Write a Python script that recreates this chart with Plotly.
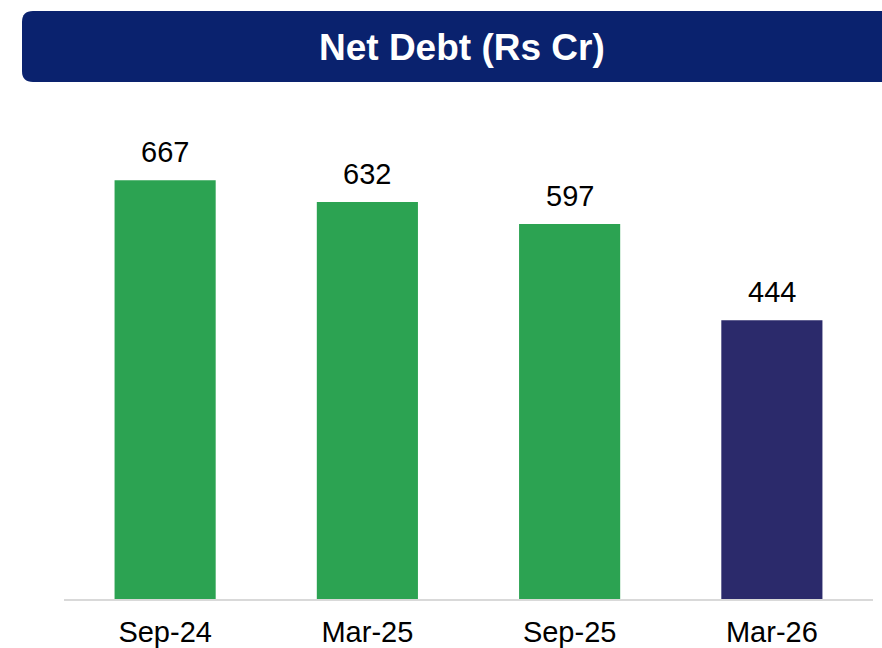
import plotly.graph_objects as go

categories = ["Sep-24", "Mar-25", "Sep-25", "Mar-26"]
values = [667, 632, 597, 444]
bar_colors = ["#2ca352", "#2ca352", "#2ca352", "#2b2a6b"]
title_text = "Net Debt (Rs Cr)"

W, H = 882, 648
ML, MR, MT, MB = 64, 9, 100, 49
plot_w = W - ML - MR
plot_h = H - MT - MB
ymax = 794.6

def px_to_paper_x(px):
    return (px - ML) / plot_w

def px_to_paper_y(py):
    return (H - MB - py) / plot_h

FONT = "Liberation Sans, Arial, sans-serif"

fig = go.Figure()
fig.add_trace(go.Bar(
    x=categories, y=values,
    marker=dict(color=bar_colors, line=dict(width=0)),
    hoverinfo="skip",
))

# value labels
for c, v in zip(categories, values):
    fig.add_annotation(x=c, y=v, text=str(v), showarrow=False,
                       yanchor="bottom", yshift=10,
                       font=dict(family=FONT, size=29, color="#000000"))

# banner with rounded left corners
x0, x1 = px_to_paper_x(22), px_to_paper_x(900)
y0, y1 = px_to_paper_y(82), px_to_paper_y(11)
rx, ry = 11 / plot_w, 11 / plot_h
path = (f"M {x0+rx},{y1} L {x1},{y1} L {x1},{y0} L {x0+rx},{y0} "
        f"Q {x0},{y0} {x0},{y0+ry} L {x0},{y1-ry} Q {x0},{y1} {x0+rx},{y1} Z")
fig.add_shape(type="path", path=path, xref="paper", yref="paper",
              fillcolor="#0a226e", line=dict(width=0), layer="above")
fig.add_annotation(x=px_to_paper_x(462), y=px_to_paper_y(47), xref="paper", yref="paper",
                   text=f"<b>{title_text}</b>", showarrow=False,
                   xanchor="center", yanchor="middle",
                   font=dict(family=FONT, size=37, color="#ffffff"))

fig.update_layout(
    width=W, height=H,
    margin=dict(l=ML, r=MR, t=MT, b=MB, autoexpand=False),
    paper_bgcolor="#ffffff", plot_bgcolor="#ffffff",
    bargap=0.5, showlegend=False,
    font=dict(family=FONT, color="#000000"),
    xaxis=dict(showline=True, linecolor="#d9d9d9", linewidth=2,
               tickfont=dict(family=FONT, size=29, color="#000000"),
               ticks="", ticklabelstandoff=6, showgrid=False, zeroline=False),
    yaxis=dict(range=[0, ymax], visible=False, showgrid=False, zeroline=False),
)

fig.write_html("out.html", config={"displayModeBar": False},
               post_script="document.body.style.margin='0';document.body.style.overflow='hidden';")
